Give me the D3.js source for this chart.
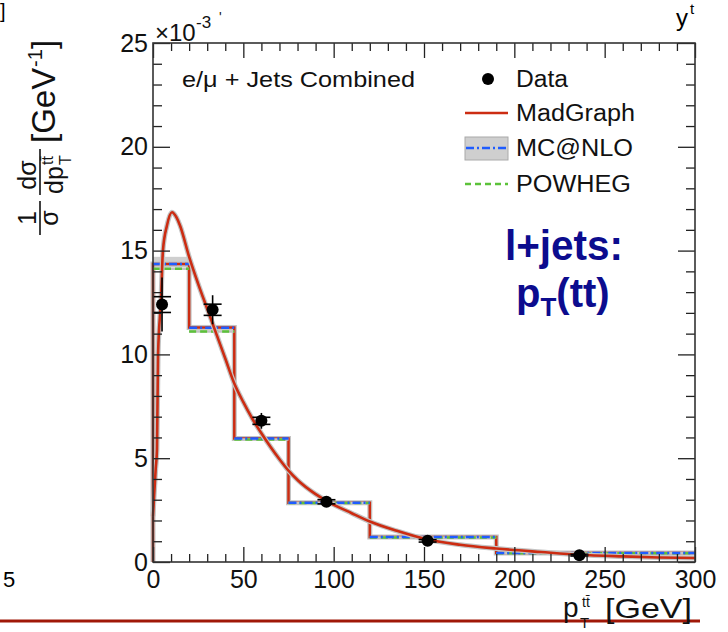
<!DOCTYPE html>
<html><head><meta charset="utf-8">
<script src="https://cdn.jsdelivr.net/npm/d3@7"></script>
<style>body{margin:0;background:#fff}svg{display:block;font-family:"Liberation Sans",Arial,Helvetica,sans-serif}</style>
</head><body><svg id="c" width="728" height="632"></svg>
<script>
// ---------- data (×10^-3 GeV^-1) ----------
const binEdges = [0, 20, 45, 75, 120, 190, 300];
const madgraphHist = [14.35, 11.3, 5.95, 2.85, 1.2, 0.43];
const mcnloHist = [14.35, 11.28, 5.95, 2.86, 1.2, 0.43];
const mcnloBandLo = [14.2, 11.15, 5.88, 2.8, 1.16, 0.4];
const mcnloBandHi = [14.7, 11.42, 6.03, 2.92, 1.24, 0.46];
const powhegHist = [14.12, 11.1, 5.9, 2.84, 1.18, 0.42];
const dataX = [5, 33, 60, 96, 152, 236];
const dataY = [12.4, 12.15, 6.8, 2.9, 1.02, 0.33];
const dataStat = [0.38, 0.27, 0.17, 0.1, 0.06, 0.04];
const dataTot = [1.3, 0.7, 0.38, 0.2, 0.1, 0.06];
const curveX = [0, 0.5, 1.5, 2.2, 2.8, 4.4, 5.5, 7.7, 10.5, 13, 15, 20, 25, 30, 35, 40, 45, 50, 55, 60, 65, 70, 75, 80, 90, 96, 110, 120, 135, 152, 170, 190, 215, 236, 260, 280, 300];
const curveY = [2.2, 3.0, 4.5, 5.4, 10.0, 12.6, 15.0, 16.2, 16.85, 16.6, 16.2, 14.7, 13.4, 12.2, 11.0, 9.8, 8.6, 7.7, 6.9, 6.2, 5.55, 4.95, 4.4, 3.95, 3.27, 2.95, 2.35, 1.95, 1.5, 1.08, 0.83, 0.65, 0.48, 0.35, 0.27, 0.22, 0.19];
const xTicks = [0, 50, 100, 150, 200, 250, 300];
const yTicks = [0, 5, 10, 15, 20, 25];
const legendLabels = ["Data", "MadGraph", "MC@NLO", "POWHEG"];

// ---------- setup ----------
const svg = d3.select("#c");
const L = 153, R = 695, T = 43, B = 562;
const x = d3.scaleLinear().domain([0, 300]).range([L, R]);
const y = d3.scaleLinear().domain([0, 25]).range([B, T]);
const RED = "#cc2c12", BLUE = "#1f5cff", GREEN = "#5cc23a", HALO = "#c4c4c4";

// slide decorations
svg.append("text").attr("x", 0).attr("y", 18).attr("font-size", 20).text("]");
svg.append("text").attr("x", 676).attr("y", 26).attr("font-size", 24).text("y");
svg.append("text").attr("x", 690).attr("y", 14).attr("font-size", 15).text("t");
svg.append("text").attr("x", 3).attr("y", 587).attr("font-size", 22).text("5");
svg.append("line").attr("x1", 0).attr("x2", 700).attr("y1", 621).attr("y2", 621)
  .attr("stroke", "#a01808").attr("stroke-width", 3);

// ---------- MC@NLO band ----------
const bins = d3.range(madgraphHist.length);
svg.append("g").selectAll("rect").data(bins).join("rect")
  .attr("x", i => x(binEdges[i])).attr("width", i => x(binEdges[i + 1]) - x(binEdges[i]))
  .attr("y", i => y(mcnloBandHi[i])).attr("height", i => y(mcnloBandLo[i]) - y(mcnloBandHi[i]))
  .attr("fill", "#cfcfcf");

// ---------- histograms ----------
function stepPts(vals) {
  const pts = [];
  vals.forEach((v, i) => { pts.push([binEdges[i], v]); pts.push([binEdges[i + 1], v]); });
  return pts;
}
const line = d3.line().x(d => x(d[0])).y(d => y(d[1]));
const mgPts = [[0, 0]].concat(stepPts(madgraphHist));
svg.append("path").attr("d", line(mgPts)).attr("fill", "none").attr("stroke", HALO).attr("stroke-width", 5);
svg.append("path").attr("d", line(mgPts)).attr("fill", "none").attr("stroke", RED).attr("stroke-width", 2.5);

function horiz(vals, color, dash) {
  const g = svg.append("g");
  g.selectAll("line.h").data(bins).join("line")
    .attr("x1", i => x(binEdges[i])).attr("x2", i => x(binEdges[i + 1]))
    .attr("y1", i => y(vals[i])).attr("y2", i => y(vals[i]))
    .attr("stroke", color).attr("stroke-width", 2.5).attr("stroke-dasharray", dash);
}
horiz(powhegHist, HALO, null);
horiz(powhegHist, GREEN, "7,4");
horiz(mcnloHist, BLUE, "8,3,2,3");

// ---------- MadGraph curve ----------
const cPts = curveX.map((v, i) => [v, curveY[i]]);
const cl = d3.line().x(d => x(d[0])).y(d => y(d[1])).curve(d3.curveMonotoneX);
svg.append("path").attr("d", cl(cPts)).attr("fill", "none").attr("stroke", HALO).attr("stroke-width", 5);
svg.append("path").attr("d", cl(cPts)).attr("fill", "none").attr("stroke", RED).attr("stroke-width", 2.6);

// ---------- data points ----------
const dg = svg.append("g").attr("stroke", "#000").attr("stroke-width", 1.6);
dataX.forEach((xv, i) => {
  const cx = x(xv), cy = y(dataY[i]);
  dg.append("line").attr("x1", cx).attr("x2", cx).attr("y1", y(dataY[i] + dataTot[i])).attr("y2", y(dataY[i] - dataTot[i]));
  dg.append("line").attr("x1", cx - 9).attr("x2", cx + 9).attr("y1", y(dataY[i] + dataStat[i])).attr("y2", y(dataY[i] + dataStat[i]));
  dg.append("line").attr("x1", cx - 9).attr("x2", cx + 9).attr("y1", y(dataY[i] - dataStat[i])).attr("y2", y(dataY[i] - dataStat[i]));
  dg.append("circle").attr("cx", cx).attr("cy", cy).attr("r", 6).attr("fill", "#000").attr("stroke", "none");
});

// ---------- axes ----------
const xMinor = d3.range(0, 301, 10).filter(v => v % 50 !== 0);
const yMinor = d3.range(0, 25.01, 1).filter(v => v % 5 !== 0);
function axisG(gen, tx, ty, labels) {
  const g = svg.append("g").attr("transform", `translate(${tx},${ty})`).call(gen);
  g.select(".domain").remove();
  g.selectAll("line").attr("stroke", "#222").attr("stroke-width", 1.3);
  if (!labels) g.selectAll("text").remove();
  return g;
}
const xb = axisG(d3.axisBottom(x).tickValues(xTicks).tickSize(-15).tickPadding(8).tickFormat(d3.format("d")), 0, B, true);
xb.selectAll("text").attr("font-size", 25).attr("fill", "#111").attr("font-family", "Liberation Sans, Arial, sans-serif");
axisG(d3.axisBottom(x).tickValues(xMinor).tickSize(-8), 0, B, false);
axisG(d3.axisTop(x).tickValues(xTicks).tickSize(-15), 0, T, false);
axisG(d3.axisTop(x).tickValues(xMinor).tickSize(-8), 0, T, false);
const yl = axisG(d3.axisLeft(y).tickValues(yTicks).tickSize(-17).tickPadding(5).tickFormat(d3.format("d")), L, 0, true);
yl.selectAll("text").attr("font-size", 25).attr("fill", "#111").attr("font-family", "Liberation Sans, Arial, sans-serif");
axisG(d3.axisLeft(y).tickValues(yMinor).tickSize(-9), L, 0, false);
axisG(d3.axisRight(y).tickValues(yTicks).tickSize(-17), R, 0, false);
axisG(d3.axisRight(y).tickValues(yMinor).tickSize(-9), R, 0, false);
svg.append("rect").attr("x", L).attr("y", T).attr("width", R - L).attr("height", B - T)
  .attr("fill", "none").attr("stroke", "#333").attr("stroke-width", 1.6);

// exponent
svg.append("text").attr("x", 155).attr("y", 41).attr("font-size", 24).attr("fill", "#111").text("×10");
svg.append("text").attr("x", 196).attr("y", 28).attr("font-size", 17).attr("fill", "#111").text("-3");
svg.append("text").attr("x", 219).attr("y", 22).attr("font-size", 14).attr("fill", "#111").text("'");

// ---------- legend ----------
svg.append("text").attr("x", 182).attr("y", 87).attr("font-size", 22).attr("textLength", 233)
  .attr("lengthAdjust", "spacingAndGlyphs").attr("fill", "#111").text("e/μ + Jets Combined");
const lgY = [79, 113, 148, 184];
const lgW = [52, 119, 117, 115];
legendLabels.forEach((t, i) => {
  svg.append("text").attr("x", 516).attr("y", lgY[i] + 8).attr("font-size", 23)
    .attr("textLength", lgW[i]).attr("lengthAdjust", "spacingAndGlyphs").attr("fill", "#111").text(t);
});
svg.append("circle").attr("cx", 488).attr("cy", lgY[0]).attr("r", 6).attr("fill", "#000");
svg.append("line").attr("x1", 465).attr("x2", 508).attr("y1", lgY[1]).attr("y2", lgY[1]).attr("stroke", RED).attr("stroke-width", 2.5);
svg.append("rect").attr("x", 465).attr("y", 137).attr("width", 43).attr("height", 23).attr("fill", "#cfcfcf").attr("stroke", "#aaa");
svg.append("line").attr("x1", 466).attr("x2", 507).attr("y1", lgY[2]).attr("y2", lgY[2]).attr("stroke", BLUE).attr("stroke-width", 2.5).attr("stroke-dasharray", "8,3,2,3");
svg.append("line").attr("x1", 465).attr("x2", 508).attr("y1", lgY[3]).attr("y2", lgY[3]).attr("stroke", GREEN).attr("stroke-width", 2.5).attr("stroke-dasharray", "6,4");

// ---------- blue annotation ----------
const NAVY = "#0c0c8e";
svg.append("text").attr("x", 564).attr("y", 260).attr("text-anchor", "middle").attr("font-size", 42)
  .attr("font-weight", "bold").attr("fill", NAVY).attr("textLength", 118).attr("lengthAdjust", "spacingAndGlyphs").text("l+jets:");
const t2 = svg.append("text").attr("x", 516).attr("y", 307).attr("font-size", 40).attr("font-weight", "bold").attr("fill", NAVY);
t2.append("tspan").text("p");
t2.append("tspan").attr("font-size", 26).attr("dy", 9).text("T");
t2.append("tspan").attr("dy", -9).text("(tt)");

// ---------- x title ----------
svg.append("text").attr("x", 563).attr("y", 617).attr("font-size", 28).attr("fill", "#111").text("p");
svg.append("text").attr("x", 580).attr("y", 628).attr("font-size", 15).attr("fill", "#111").text("T");
svg.append("text").attr("x", 582).attr("y", 607).attr("font-size", 14).attr("fill", "#111").text("tt̄");
svg.append("text").attr("x", 605).attr("y", 618).attr("font-size", 28).attr("fill", "#111")
  .attr("textLength", 87).attr("lengthAdjust", "spacingAndGlyphs").text("[GeV]");

// ---------- y title (rotated) ----------
const yt = svg.append("g").attr("transform", "translate(55,237) rotate(-90)").attr("fill", "#111");
function bar(x0, w, barY) {
  yt.append("line").attr("x1", x0).attr("x2", x0 + w).attr("y1", barY).attr("y2", barY).attr("stroke", "#111").attr("stroke-width", 1.6);
}
bar(2, 34, -15);
yt.append("text").attr("x", 19).attr("y", -19).attr("text-anchor", "middle").attr("font-size", 25).text("1");
yt.append("text").attr("x", 19).attr("y", 3).attr("text-anchor", "middle").attr("font-size", 25).text("σ");
bar(42, 46, -15);
yt.append("text").attr("x", 62).attr("y", -19).attr("text-anchor", "middle").attr("font-size", 25).text("dσ");
yt.append("text").attr("x", 43).attr("y", 8).attr("font-size", 25).text("dp");
yt.append("text").attr("x", 72).attr("y", 16).attr("font-size", 16).text("T");
yt.append("text").attr("x", 72).attr("y", -2).attr("font-size", 16).text("tt̄");
yt.append("text").attr("x", 94).attr("y", 0).attr("font-size", 33).text("[GeV");
yt.append("text").attr("x", 170).attr("y", -13).attr("font-size", 20).text("-1");
yt.append("text").attr("x", 188).attr("y", 0).attr("font-size", 33).text("]");
</script></body></html>
